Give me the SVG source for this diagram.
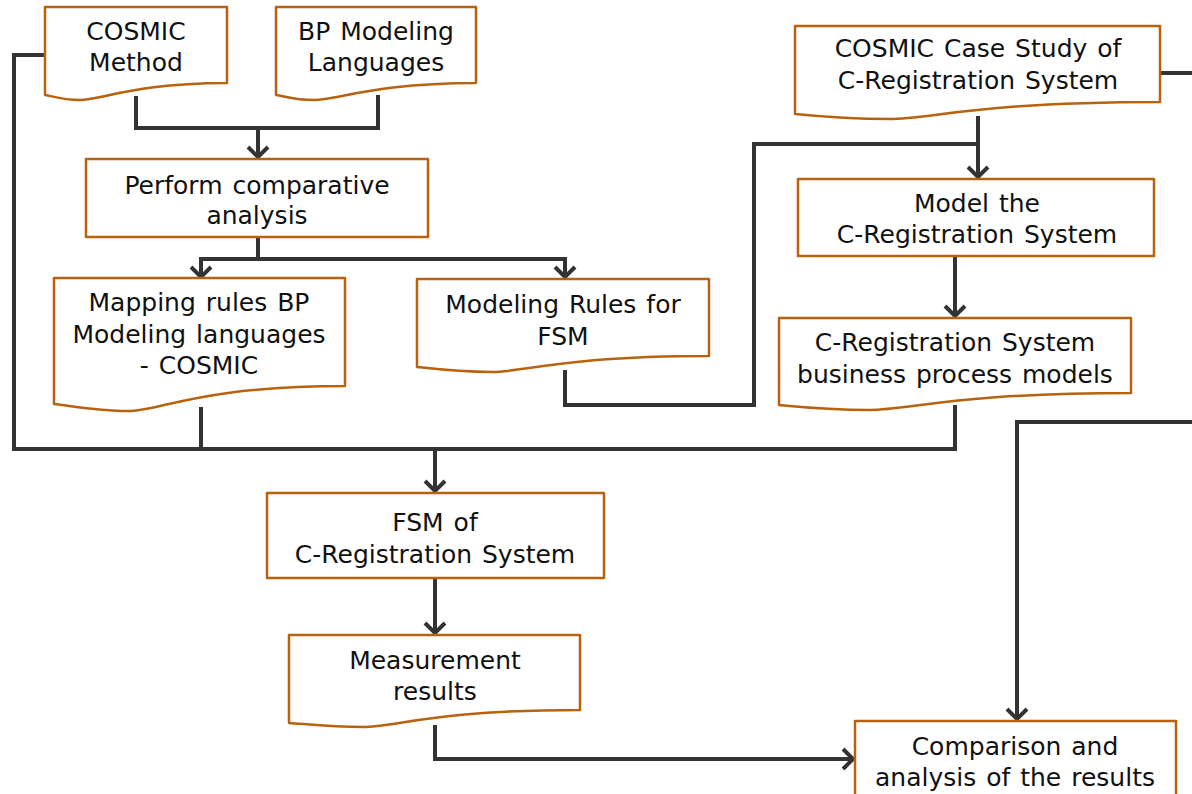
<svg xmlns="http://www.w3.org/2000/svg" width="1192" height="794" viewBox="0 0 1192 794">
<defs>
<style>
.box{fill:#fff;stroke:#b8620e;stroke-width:2.5;stroke-linejoin:round}
.c{fill:none;stroke:#333;stroke-width:4;stroke-linejoin:miter}
.t{font-family:"DejaVu Sans",Verdana,sans-serif;font-size:25px;word-spacing:2px;fill:#111;text-anchor:middle}
</style>
<marker id="ar" markerUnits="userSpaceOnUse" markerWidth="24" markerHeight="24" viewBox="0 0 24 24" refX="12" refY="12" orient="auto">
<path d="M2,2 L12,12 L2,22" fill="none" stroke="#333" stroke-width="4"/>
</marker>
</defs>
<rect width="1192" height="794" fill="#fff"/>
<g id="connectors">
<path class="c" d="M45,55 H14 V449 H955 V405"/>
<path class="c" d="M201,407 V449"/>
<path class="c" d="M435,449 V491" marker-end="url(#ar)"/>
<path class="c" d="M136,96 V128 H378 V95"/>
<path class="c" d="M258,128 V157" marker-end="url(#ar)"/>
<path class="c" d="M258,237 V259 H201 V277" marker-end="url(#ar)"/>
<path class="c" d="M258,259 H565 V277" marker-end="url(#ar)"/>
<path class="c" d="M565,370 V405 H754 V144 H978"/>
<path class="c" d="M978,116 V177" marker-end="url(#ar)"/>
<path class="c" d="M955,256 V316" marker-end="url(#ar)"/>
<path class="c" d="M1160,73 H1192"/>
<path class="c" d="M1192,422 H1017 V719" marker-end="url(#ar)"/>
<path class="c" d="M435,578 V633" marker-end="url(#ar)"/>
<path class="c" d="M435,725 V759 H853" marker-end="url(#ar)"/>
</g>
<g id="n1">
<path class="box" d="M45,7 H227 V83 C136,83 100,100 80,100 C62,100 52,96 45,95 Z"/>
<text class="t" x="136" y="40">COSMIC</text>
<text class="t" x="136" y="71">Method</text>
</g>
<g id="n2">
<path class="box" d="M276,7 H476 V83 C376,83 336,100 314,100 C294,100 284,96 276,95 Z"/>
<text class="t" x="376" y="40">BP Modeling</text>
<text class="t" x="376" y="71">Languages</text>
</g>
<g id="n3">
<rect class="box" x="86" y="159" width="342" height="78"/>
<text class="t" x="257" y="194">Perform comparative</text>
<text class="t" x="257" y="224">analysis</text>
</g>
<g id="n4">
<path class="box" d="M54,278 H345 V386 C200,386 160,411 128,411 C98,411 72,406 54,404 Z"/>
<text class="t" x="199" y="311">Mapping rules BP</text>
<text class="t" x="199" y="343">Modeling languages</text>
<text class="t" x="199" y="374">- COSMIC</text>
</g>
<g id="n5">
<path class="box" d="M417,279 H709 V356 C563,356 525,372 492,372 C460,372 435,369 417,367 Z"/>
<text class="t" x="563" y="313">Modeling Rules for</text>
<text class="t" x="563" y="345">FSM</text>
</g>
<g id="n6">
<path class="box" d="M795,26 H1160 V102 C978,102 930,119 890,119 C850,119 815,116 795,114 Z"/>
<text class="t" x="978" y="57">COSMIC Case Study of</text>
<text class="t" x="978" y="89">C-Registration System</text>
</g>
<g id="n7">
<rect class="box" x="798" y="179" width="356" height="77"/>
<text class="t" x="977" y="212">Model the</text>
<text class="t" x="977" y="243">C-Registration System</text>
</g>
<g id="n8">
<path class="box" d="M779,318 H1131 V393 C955,393 910,410 870,410 C830,410 800,407 779,405 Z"/>
<text class="t" x="955" y="351">C-Registration System</text>
<text class="t" x="955" y="383">business process models</text>
</g>
<g id="n9">
<rect class="box" x="267" y="493" width="337" height="85"/>
<text class="t" x="435" y="531">FSM of</text>
<text class="t" x="435" y="563">C-Registration System</text>
</g>
<g id="n10">
<path class="box" d="M289,635 H580 V710 C435,710 395,727 363,727 C330,727 305,724 289,723 Z"/>
<text class="t" x="435" y="669">Measurement</text>
<text class="t" x="435" y="700">results</text>
</g>
<g id="n11">
<rect class="box" x="855" y="721" width="321" height="90"/>
<text class="t" x="1015" y="755">Comparison and</text>
<text class="t" x="1015" y="786">analysis of the results</text>
</g>
</svg>
